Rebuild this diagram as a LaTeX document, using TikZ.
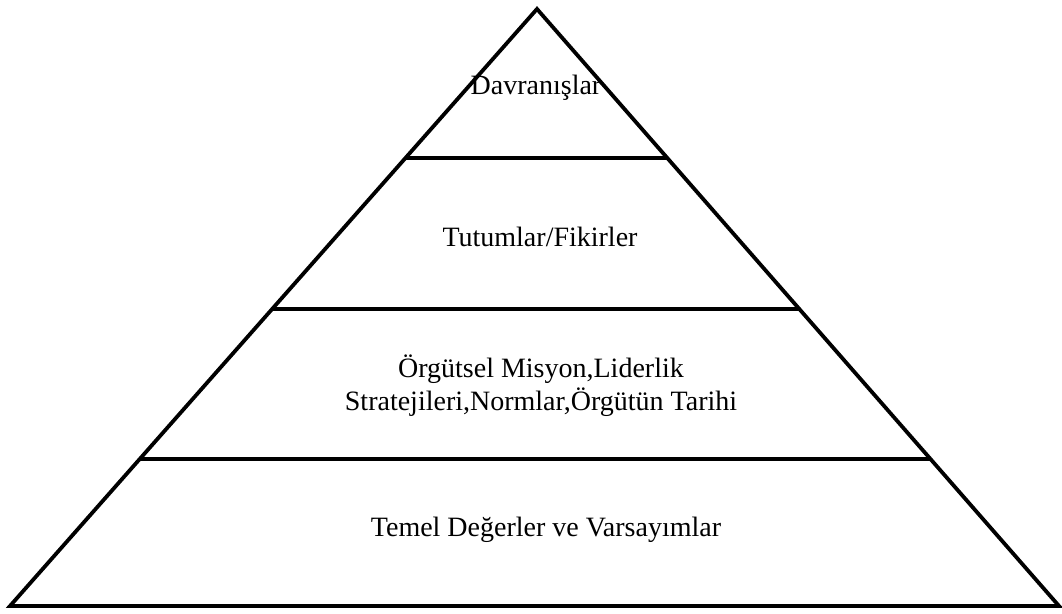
\documentclass[tikz,border=0pt]{standalone}
\usepackage{fontspec}
\setmainfont{Liberation Serif}
\begin{document}
\begin{tikzpicture}[x=0.5pt,y=-0.5pt,
  edge/.style={line width=1.9pt,line join=miter},
  tier/.style={line width=1.7pt},
  label/.style={font=\fontsize{14}{16.5}\selectfont,align=center,inner sep=0pt}]
\useasboundingbox (0,0) rectangle (1062,614);
% corners of the pyramid
\coordinate (apex) at (537,9);
\coordinate (bl) at (10,606);
\coordinate (br) at (1059,606);
% outline
\draw[edge] (bl) -- (apex) -- (br) -- cycle;
% tier dividers, ends on the slanted sides
\foreach \yy/\nm in {158/a,309/b,459/c}{
  \pgfmathsetmacro{\xl}{537-(527/597)*(\yy-9)}
  \pgfmathsetmacro{\xr}{537+(522/597)*(\yy-9)}
  \coordinate (\nm l) at (\xl,\yy);
  \coordinate (\nm r) at (\xr,\yy);
  \draw[tier] (\nm l) -- (\nm r);
}
% tier labels
\node[label] (t1) at (536,88) {Davranışlar};
\node[label] (t2) at (540,237) {Tutumlar/Fikirler};
\node[label] (t3) at (541,386) {Örgütsel Misyon,Liderlik\\Stratejileri,Normlar,Örgütün Tarihi};
\node[label] (t4) at (546,530) {Temel Değerler ve Varsayımlar};
\end{tikzpicture}
\end{document}
